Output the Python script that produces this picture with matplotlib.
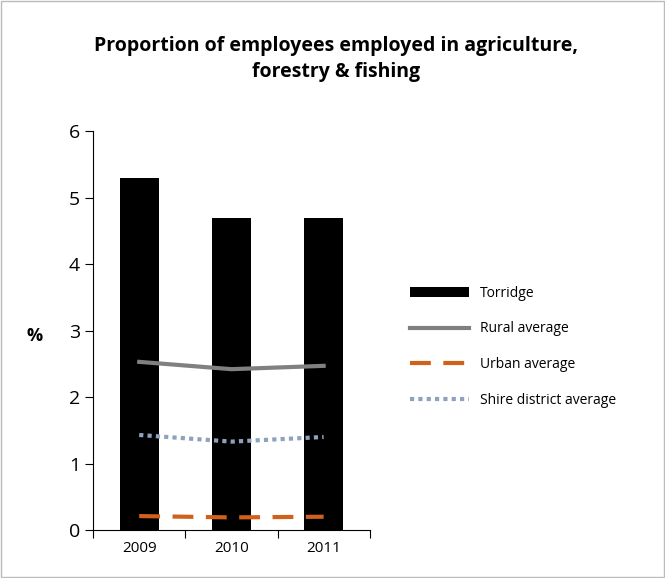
import matplotlib
matplotlib.use("Agg")
import matplotlib.pyplot as plt
from matplotlib.patches import Rectangle

years = ["2009", "2010", "2011"]
torridge = [5.3, 4.7, 4.7]
rural = [2.53, 2.42, 2.47]
urban = [0.21, 0.19, 0.2]
shire = [1.43, 1.33, 1.4]

plt.rcParams['font.family'] = ['Open Sans', 'DejaVu Sans']
fig = plt.figure(figsize=(6.65, 5.78), dpi=100)
fig.patches.append(Rectangle((0.002, 0.002), 0.996, 0.996, transform=fig.transFigure,
                             fill=False, edgecolor='#bbbbbb', lw=1))
ax = fig.add_axes([0.14, 0.083, 0.416, 0.69])
x = range(len(years))
h1 = ax.bar(x, torridge, width=0.42, color='black', label='Torridge')
h2, = ax.plot(x, rural, color='#808080', lw=3, label='Rural average')
h3, = ax.plot(x, urban, color='#d0601a', lw=3, dashes=(5, 3), label='Urban average')
h4, = ax.plot(x, shire, color='#8ea2bd', lw=3, dashes=(1, 1), label='Shire district average')
ax.set_xlim(-0.5, 2.5)
ax.set_ylim(0, 6)
ax.set_yticks(range(7))
ax.set_xticks([-0.5, 0.5, 1.5, 2.5], minor=False)
ax.set_xticklabels([])
ax.set_xticks(list(x), minor=True)
ax.set_xticklabels(years, minor=True, fontsize=11)
ax.tick_params(axis='x', which='minor', length=0, pad=8)
ax.tick_params(axis='x', which='major', length=6, direction='out')
ax.tick_params(axis='y', labelsize=14, length=6, direction='out')
for s in ['top', 'right']:
    ax.spines[s].set_visible(False)
fig.text(0.04, 0.418, '%', fontsize=13, fontweight='bold', va='center')
fig.text(0.505, 0.898, 'Proportion of employees employed in agriculture,\nforestry & fishing',
         ha='center', va='center', fontsize=14, fontweight='bold', linespacing=1.35)
fig.legend(handles=[h1, h2, h3, h4], loc='center left', bbox_to_anchor=(0.598, 0.40),
           frameon=False, fontsize=10, handlelength=4.2, labelspacing=1.5)
fig.savefig('out.png')
